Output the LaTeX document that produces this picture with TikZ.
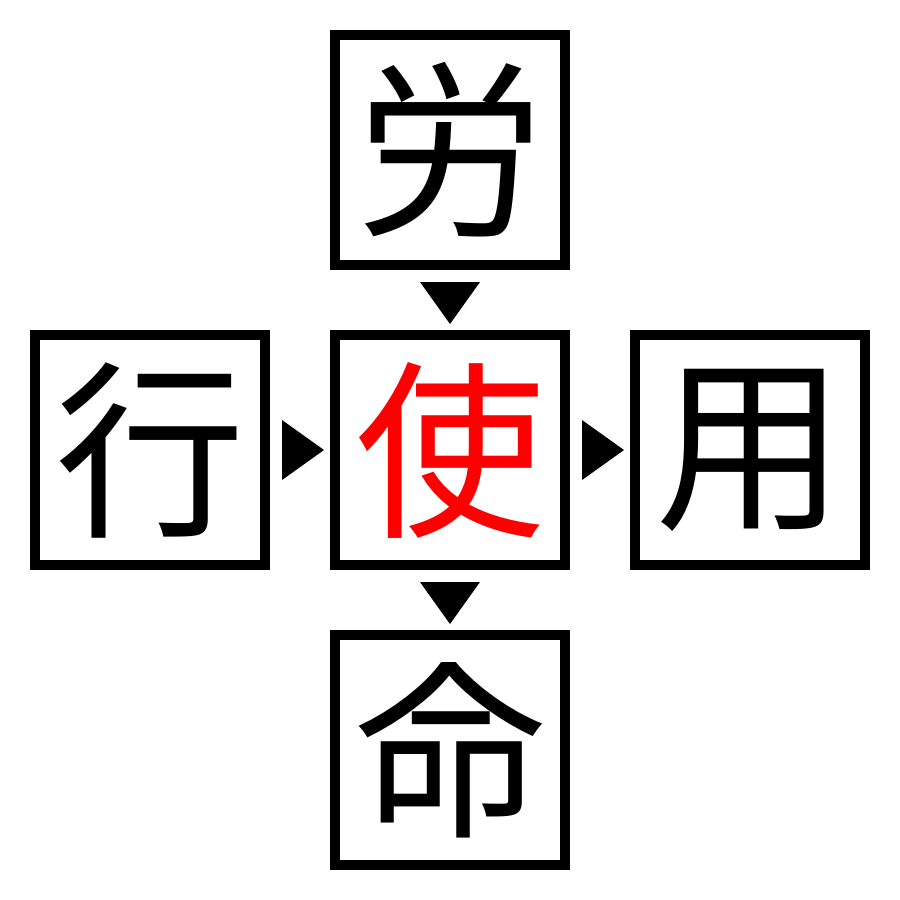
\documentclass[tikz,border=0pt]{standalone}
\usepackage{fontspec}
\usetikzlibrary{calc}
\newfontfamily\cjk{Noto Sans CJK JP}
\begin{document}
\begin{tikzpicture}[x=1pt,y=-1pt,
  kbox/.style={draw=black,line width=10pt,minimum size=230pt,inner sep=0pt,font=\cjk\fontsize{190}{190}\selectfont},
  tri/.style={fill=black,draw=none}]
\useasboundingbox (0,0) rectangle (900,900);
\node[kbox] (top) at (450,150) {労};
\node[kbox] (left) at (150,450) {行};
\node[kbox,text=red] (mid) at (450,450) {使};
\node[kbox] (right) at (750,450) {用};
\node[kbox] (bot) at (450,750) {命};
\fill[tri] ($(top.south)+(-30,12)$) -- ($(top.south)+(30,12)$) -- ($(top.south)+(0,54)$) -- cycle;
\fill[tri] ($(mid.south)+(-30,12)$) -- ($(mid.south)+(30,12)$) -- ($(mid.south)+(0,54)$) -- cycle;
\fill[tri] ($(left.east)+(12,-30)$) -- ($(left.east)+(12,30)$) -- ($(left.east)+(54,0)$) -- cycle;
\fill[tri] ($(mid.east)+(12,-30)$) -- ($(mid.east)+(12,30)$) -- ($(mid.east)+(54,0)$) -- cycle;
\end{tikzpicture}
\end{document}
